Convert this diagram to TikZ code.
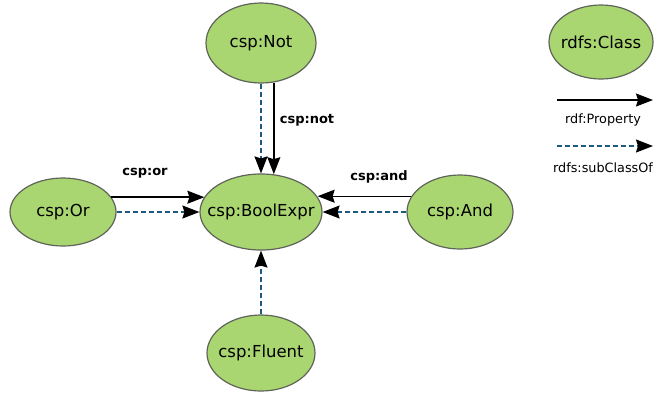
\documentclass[tikz,border=0pt]{standalone}
\usepackage{fontspec}
\setmainfont{DejaVu Sans}
\usetikzlibrary{shapes.geometric,arrows.meta}
\definecolor{nodefill}{RGB}{169,214,112}
\definecolor{nodeline}{RGB}{95,100,90}
\definecolor{subcl}{RGB}{30,90,125}
\newcommand{\ctext}[1]{\makebox[0pt]{#1}}
\tikzset{
  cls/.style={ellipse,draw=nodeline,line width=1.2pt,fill=nodefill,inner sep=0pt,font=\fontsize{16.5}{19}\selectfont},
  prop/.style={line width=1.4pt,black,-{Stealth[length=17pt,width=13pt,inset=2pt]}},
  subc/.style={line width=1.4pt,subcl,dash pattern=on 5pt off 3pt,-{Stealth[length=17pt,width=13pt,inset=2pt,black]}},
  elabel/.style={font=\bfseries\fontsize{13}{15}\selectfont},
  leglabel/.style={font=\fontsize{12.8}{15}\selectfont}
}
\begin{document}
\begin{tikzpicture}[x=1pt,y=-1pt]
\useasboundingbox (0,0) rectangle (655,392);
\clip (0,0) rectangle (655,392);
\node[cls,minimum width=110pt,minimum height=80pt] (not) at (261,43) {\ctext{csp:Not}};
\node[cls,minimum width=122pt,minimum height=76pt] (bool) at (261,212) {\ctext{csp:BoolExpr}};
\node[cls,minimum width=106pt,minimum height=68pt] (or) at (63,212) {\ctext{csp:Or}};
\node[cls,minimum width=106pt,minimum height=74pt] (and) at (460,212) {\ctext{csp:And}};
\node[cls,minimum width=108pt,minimum height=76pt] (fluent) at (261,353) {\ctext{csp:Fluent}};
\node[cls,minimum width=104pt,minimum height=74pt] (class) at (601,42) {\ctext{rdfs:Class}};

% csp:not
\draw[subc] (not.south) -- (bool.north);
\draw[prop] (not.-72.9) -- (bool.72.2 -| not.-72.9);
\node[elabel] (lnot) at (307,120) {csp:not};
% csp:or
\draw[subc] (or.east) -- (bool.west);
\draw[prop] (or.17.5) -- (bool.165 |- or.17.5);
\node[elabel] (lor) at (145,173) {csp:or};
% csp:and
\draw[subc] (and.west) -- (bool.east);
\draw[prop] (and.162.8) -- (bool.15 |- and.162.8);
\node[elabel] (land) at (379,177) {csp:and};
% fluent
\draw[subc] (fluent.north) -- (bool.south);

% legend
\coordinate (pa) at (557,100);
\coordinate (pb) at (653,100);
\draw[prop] (pa) -- (pb);
\node[leglabel] (lprop) at (603,120) {rdf:Property};
\coordinate (sa) at (557,146);
\coordinate (sb) at (653,146);
\draw[subc] (sa) -- (sb);
\node[leglabel] (lsub) at (603,168) {rdfs:subClassOf};
\end{tikzpicture}
\end{document}
